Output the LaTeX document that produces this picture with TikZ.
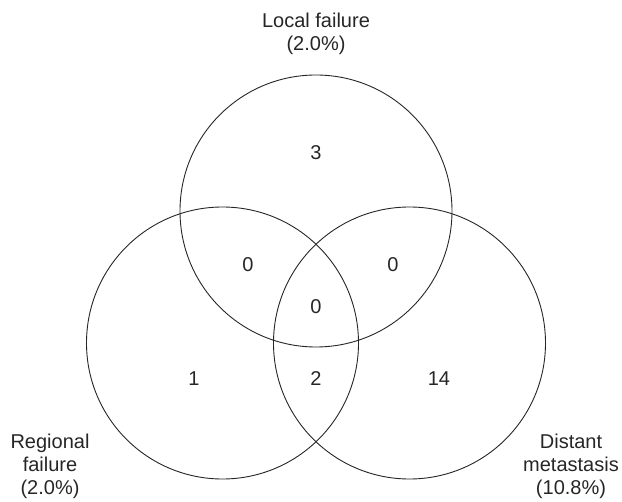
\documentclass[tikz,border=0pt]{standalone}
\usepackage{fontspec}
\setmainfont{Liberation Sans}

\begin{document}
\begin{tikzpicture}[x=1pt,y=-1pt]
	\tikzset{
		ring/.style={line width=0.9pt, color=black!85},
		count/.style={font=\fontsize{20}{24}\selectfont, text=black!85},
		setlabel/.style={font=\fontsize{20}{23}\selectfont, align=center, text=black!85, inner sep=0pt}
	}
	\useasboundingbox (0,0) rectangle (622,502);

	% Circles
	\begin{scope}
		\coordinate (localcentre) at (316,211);
		\coordinate (regionalcentre) at (222.5,343);
		\coordinate (distantcentre) at (409.5,343);
		\draw[ring] (localcentre) circle[radius=136pt];
		\draw[ring] (regionalcentre) circle[radius=136pt];
		\draw[ring] (distantcentre) circle[radius=136pt];
	\end{scope}

	% Set labels
	\node[setlabel] (locallabel) at (316,34) {Local failure\\(2.0\%)};
	\node[setlabel] (regionallabel) at (50,466) {Regional\\failure\\(2.0\%)};
	\node[setlabel] (distantlabel) at (571,466) {Distant\\metastasis\\(10.8\%)};

	% Counts
	\node[count] (localonly) at (316,153) {3};
	\node[count] (localregional) at (248,265) {0};
	\node[count] (localdistant) at (393,265) {0};
	\node[count] (allthree) at (316,307) {0};
	\node[count] (regionalonly) at (194,379) {1};
	\node[count] (regionaldistant) at (316,379) {2};
	\node[count] (distantonly) at (439,379) {14};

\end{tikzpicture}
\end{document}
